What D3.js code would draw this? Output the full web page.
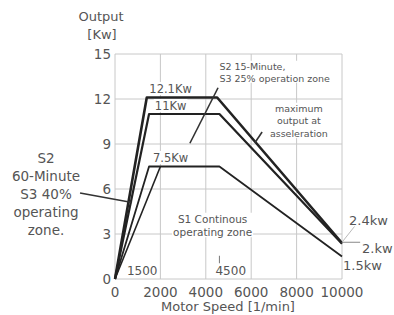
<!DOCTYPE html>
<html>
<head>
<meta charset="utf-8">
<script src="https://cdn.jsdelivr.net/npm/d3@7"></script>
<style>
  body { margin: 0; background: #fff; }
  text { font-family: "DejaVu Sans", sans-serif; fill: #555; }
</style>
</head>
<body>
<svg id="chart" width="394" height="315"></svg>
<script>
// axis ticks
const speedTicks = [0, 2000, 4000, 6000, 8000, 10000];
const powerTicks = [0, 3, 6, 9, 12, 15];

// output curves: speed [1/min] -> output [Kw]
const peakSpeed = [0, 1400, 4500, 10000];
const peakKw = [0, 12.1, 12.1, 2.4];
const s2Speed = [0, 1500, 4600, 10000];
const s2Kw = [0, 11, 11, 2.35];
const s1Speed = [0, 1500, 4600, 10000];
const s1Kw = [0, 7.5, 7.5, 1.5];
const rampSpeed = [0, 2000];
const rampKw = [0, 7.5];

// leader lines [speed, kw, speed, kw]
const leaders = [
  [4540, 12.75, 3300, 9.05],
  [6480, 9.8, 6170, 9.1],
  [-1540, 5.73, 750, 5.1]
];

let svg = d3.select("#chart");
let x = d3.scaleLinear().domain([0, 10000]).range([115, 342]);
let y = d3.scaleLinear().domain([0, 15]).range([279, 54]);

// grid
svg.append("g").selectAll("line").data(powerTicks).join("line")
  .attr("x1", x(0)).attr("x2", x(10000))
  .attr("y1", d => y(d)).attr("y2", d => y(d))
  .attr("stroke", "#c8c8c8").attr("stroke-width", 1);
svg.append("g").selectAll("line").data(speedTicks).join("line")
  .attr("x1", d => x(d)).attr("x2", d => x(d))
  .attr("y1", y(0)).attr("y2", y(15))
  .attr("stroke", "#c8c8c8").attr("stroke-width", 1);

// axis tick labels
svg.append("g").selectAll("text").data(powerTicks).join("text")
  .attr("x", x(0) - 4).attr("y", d => y(d) + 5)
  .attr("text-anchor", "end").attr("font-size", 13.5)
  .text(d => d);
svg.append("g").selectAll("text").data(speedTicks).join("text")
  .attr("x", d => x(d)).attr("y", 297)
  .attr("text-anchor", "middle").attr("font-size", 13.5)
  .text(d => d);

svg.append("text").attr("x", 101).attr("y", 21).attr("text-anchor", "middle")
  .attr("font-size", 13).text("Output");
svg.append("text").attr("x", 102).attr("y", 39).attr("text-anchor", "middle")
  .attr("font-size", 13).text("[Kw]");
svg.append("text").attr("x", 228).attr("y", 311).attr("text-anchor", "middle")
  .attr("font-size", 13).text("Motor Speed [1/min]");

// in-plot text boxes (white background hides grid)
function label(sx, k, lines, size, anchor, lh) {
  let g = svg.append("g");
  let t = g.append("text").attr("font-size", size).attr("text-anchor", anchor);
  lines.forEach((s, i) => {
    t.append("tspan").attr("x", x(sx)).attr("y", y(k) + i * lh).text(s);
  });
  let b = t.node().getBBox();
  g.insert("rect", "text").attr("x", b.x - 1).attr("y", b.y)
    .attr("width", b.width + 2).attr("height", b.height - 1).attr("fill", "#fff");
}
label(4600, 13.95, ["S2 15-Minute,", "S3 25% operation zone"], 9.5, "start", 12);
label(8100, 11.15, ["maximum", "output at", "asseleration"], 9.5, "middle", 12.7);
label(4300, 3.75, ["S1 Continous", "operating zone"], 10.5, "middle", 13.5);
label(1200, 0.25, ["1500"], 12, "middle", 13);
label(5100, 0.25, ["4500"], 12, "middle", 13);
label(2450, 12.4, ["12.1Kw"], 11.5, "middle", 13);
label(2450, 11.27, ["11Kw"], 11.5, "middle", 13);
label(2450, 7.8, ["7.5Kw"], 11.5, "middle", 13);

// 4500 tick mark
svg.append("line").attr("x1", x(4600)).attr("x2", x(4600))
  .attr("y1", y(1.55)).attr("y2", y(1.05))
  .attr("stroke", "#777").attr("stroke-width", 1);

// curves
let line = d3.line().x(d => x(d[0])).y(d => y(d[1]));
let curves = [
  [d3.zip(rampSpeed, rampKw), 1.6],
  [d3.zip(s1Speed, s1Kw), 1.8],
  [d3.zip(s2Speed, s2Kw), 2.2],
  [d3.zip(peakSpeed, peakKw), 2.6]
];
svg.append("g").selectAll("path").data(curves).join("path")
  .attr("d", d => line(d[0]))
  .attr("fill", "none").attr("stroke", "#222")
  .attr("stroke-width", d => d[1]).attr("stroke-linejoin", "round");

// leaders
svg.append("g").selectAll("line").data(leaders).join("line")
  .attr("x1", d => x(d[0])).attr("y1", d => y(d[1]))
  .attr("x2", d => x(d[2])).attr("y2", d => y(d[3]))
  .attr("stroke", "#333").attr("stroke-width", 1.6);
svg.append("line").attr("x1", x(10000)).attr("y1", y(2.45))
  .attr("x2", x(10550)).attr("y2", y(3.5))
  .attr("stroke", "#bbb").attr("stroke-width", 1);
svg.append("line").attr("x1", x(10000)).attr("y1", y(2.45))
  .attr("x2", x(10800)).attr("y2", y(2.45))
  .attr("stroke", "#888").attr("stroke-width", 1);

// end labels
svg.append("text").attr("x", 349).attr("y", 225).attr("font-size", 13).text("2.4kw");
svg.append("text").attr("x", 362).attr("y", 253).attr("font-size", 13).text("2.kw");
svg.append("text").attr("x", 343).attr("y", 270).attr("font-size", 13).text("1.5kw");

// left zone label
let zone = ["S2", "60-Minute", "S3 40%", "operating", "zone."];
svg.append("g").selectAll("text").data(zone).join("text")
  .attr("x", 46).attr("y", (d, i) => 163 + i * 18)
  .attr("text-anchor", "middle").attr("font-size", 13.5)
  .text(d => d);
</script>
</body>
</html>
